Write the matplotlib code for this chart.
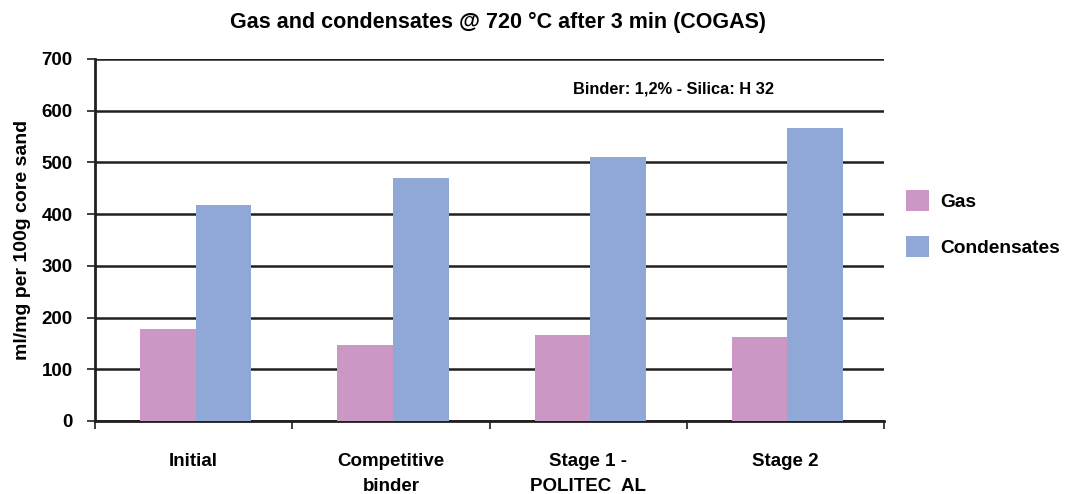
import matplotlib.pyplot as plt
import numpy as np

plt.rcParams['font.family'] = ['Liberation Sans', 'DejaVu Sans']
plt.rcParams['font.weight'] = 'bold'

categories = ['Initial', 'Competitive\nbinder', 'Stage 1 -\nPOLITEC  AL', 'Stage 2']
gas = [178, 147, 166, 162]
condensates = [418, 470, 511, 567]

gas_color = '#CB97C4'
cond_color = '#90A8D6'
dark = '#231F20'

fig = plt.figure(figsize=(10.73, 4.94), dpi=100)
ax = fig.add_axes([0.0885, 0.1478, 0.7355, 0.7328])

x = np.arange(len(categories)) + 0.5
w = 0.282
ax.bar(x - w / 2 + 0.01, gas, w, color=gas_color, label='Gas', zorder=3)
ax.bar(x + w / 2 + 0.01, condensates, w, color=cond_color, label='Condensates', zorder=3)

ax.set_xlim(0, len(categories))
ax.set_ylim(0, 700)
ax.set_yticks(range(0, 701, 100))
ax.yaxis.grid(True, color=dark, linewidth=1.8, zorder=0)
ax.set_axisbelow(True)

ax.set_xticks(np.arange(len(categories) + 1))
ax.set_xticklabels([])
ax.set_xticks(x, minor=True)
ax.set_xticklabels(categories, minor=True, fontsize=13.5, fontweight='bold', linespacing=1.65)
ax.tick_params(axis='x', which='minor', length=0, pad=23)
ax.tick_params(axis='x', which='major', length=6, width=1.2, color=dark, direction='out')
ax.tick_params(axis='y', length=6, width=1.2, color=dark, labelsize=13.5, pad=10)
for lab in ax.get_yticklabels():
    lab.set_fontweight('bold')
for lab in ax.get_xticklabels(minor=True):
    lab.set_verticalalignment('top')

for s in ['top', 'right']:
    ax.spines[s].set_visible(False)
for s in ['left', 'bottom']:
    ax.spines[s].set_color(dark)
    ax.spines[s].set_linewidth(2)

ax.set_ylabel('ml/mg per 100g core sand', fontsize=14, fontweight='bold', labelpad=8)
fig.text(0.464, 0.955, 'Gas and condensates @ 720 \u00b0C after 3 min (COGAS)',
         ha='center', va='center', fontsize=15.5, fontweight='bold')
ax.text(0.733, 0.918, 'Binder: 1,2% - Silica: H 32', transform=ax.transAxes,
        ha='center', va='center', fontsize=11.8, fontweight='bold')

fig.legend(loc='center left', bbox_to_anchor=(0.828, 0.548), frameon=False,
           handlelength=1.2, handleheight=1.3, handletextpad=0.6, labelspacing=1.3,
           prop={'weight': 'bold', 'size': 13.8})

fig.savefig('out.png', dpi=100)
